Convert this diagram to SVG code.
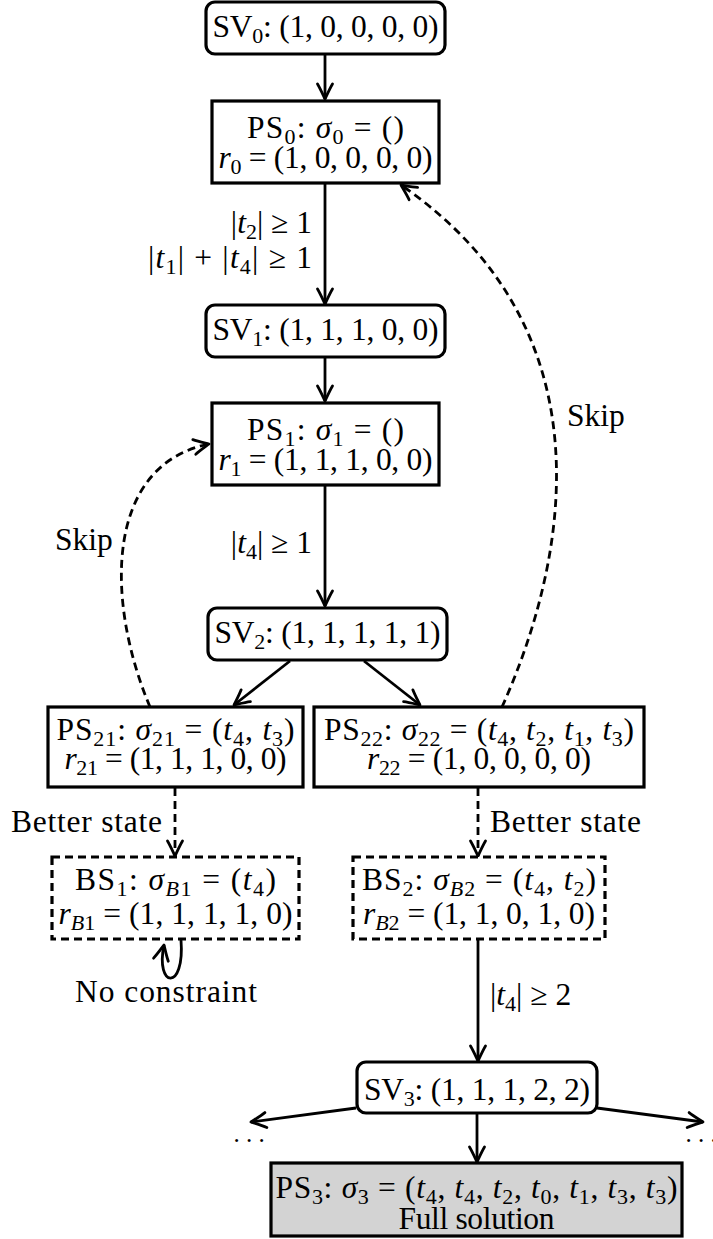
<svg xmlns="http://www.w3.org/2000/svg" width="713" height="1239" viewBox="0 0 713 1239">
<style>
.t{font-family:"Liberation Serif","Times New Roman",serif;font-size:31.5px;fill:#000}
.i{font-style:italic}
.s{font-size:22px}
.dots{font-family:"Liberation Serif","Times New Roman",serif;font-size:25px;fill:#000}
.box{fill:#fff;stroke:#000;stroke-width:3.2}
.dbox{fill:#fff;stroke:#000;stroke-width:3.2;stroke-dasharray:8 5}
.gbox{fill:#d3d3d3;stroke:#000;stroke-width:3.2}
.e{fill:none;stroke:#000;stroke-width:2.8;marker-end:url(#ah)}
.d{fill:none;stroke:#000;stroke-width:2.8;stroke-dasharray:8 5;marker-end:url(#ah)}
</style>
<defs>
<marker id="ah" markerUnits="userSpaceOnUse" markerWidth="30" markerHeight="30" refX="0" refY="0" viewBox="-20 -15 30 30" orient="auto" overflow="visible">
<path d="M-15,-7.5 C-10,-4.5 -3,-1.5 0,0 C-3,1.5 -10,4.5 -15,7.5" fill="none" stroke="#000" stroke-width="2.8" stroke-linecap="round" stroke-linejoin="round"/>
</marker>
</defs>

<g id="connectors">
<line class="e" x1="325" y1="54" x2="325" y2="99"/>
<line class="e" x1="325" y1="184" x2="325" y2="304"/>
<line class="e" x1="325" y1="357" x2="325" y2="401"/>
<line class="e" x1="325" y1="486" x2="325" y2="606"/>
<line class="e" x1="290" y1="661" x2="234" y2="705"/>
<line class="e" x1="364" y1="661" x2="420" y2="705"/>
<line class="d" x1="175" y1="788" x2="175" y2="856"/>
<line class="d" x1="478" y1="788" x2="478" y2="856"/>
<line class="e" x1="478" y1="940" x2="478" y2="1061"/>
<line class="e" x1="477" y1="1113" x2="477" y2="1162"/>
<line class="e" x1="356" y1="1108" x2="251" y2="1122"/>
<line class="e" x1="597" y1="1108" x2="703" y2="1122"/>
<path class="d" d="M150,707 C105,600 105,465 209,444"/>
<path class="d" d="M502,707 C568,560 612,330 401,185"/>
<path class="e" d="M181,940 C185,992 155,988 164,945"/>
<text class="t" x="312" y="233" text-anchor="end">|<tspan class="i">t</tspan><tspan class="s" dy="6">2</tspan><tspan dy="-6">| ≥ 1</tspan></text>
<text class="t" x="312" y="268" text-anchor="end" textLength="164">|<tspan class="i">t</tspan><tspan class="s" dy="6">1</tspan><tspan dy="-6">| + |</tspan><tspan class="i">t</tspan><tspan class="s" dy="6">4</tspan><tspan dy="-6">| ≥ 1</tspan></text>
<text class="t" x="312" y="553" text-anchor="end">|<tspan class="i">t</tspan><tspan class="s" dy="6">4</tspan><tspan dy="-6">| ≥ 1</tspan></text>
<text class="t" x="490" y="1005">|<tspan class="i">t</tspan><tspan class="s" dy="6">4</tspan><tspan dy="-6">| ≥ 2</tspan></text>
<text class="t" x="55" y="550">Skip</text>
<text class="t" x="567" y="426">Skip</text>
<text class="t" x="162" y="832" text-anchor="end" textLength="151">Better state</text>
<text class="t" x="490" y="832" textLength="151">Better state</text>
<text class="t" x="166" y="1002" text-anchor="middle" textLength="182">No constraint</text>
<text class="dots" x="249" y="1142" text-anchor="middle">. . .</text>
<text class="dots" x="701" y="1142" text-anchor="middle">. . .</text>
</g>

<g id="SV0">
<rect class="box" x="206" y="2" width="239" height="52" rx="9"/>
<text class="t" x="325.5" y="37" text-anchor="middle" textLength="226">SV<tspan class="s" dy="6">0</tspan><tspan dy="-6">: (1, 0, 0, 0, 0)</tspan></text>
</g>
<g id="PS0">
<rect class="box" x="212" y="101" width="227" height="82"/>
<text class="t" x="325.5" y="138" text-anchor="middle" textLength="157">PS<tspan class="s" dy="6">0</tspan><tspan dy="-6">: </tspan><tspan class="i">σ</tspan><tspan class="s" dy="6">0</tspan><tspan dy="-6"> = ()</tspan></text>
<text class="t" x="325.5" y="168" text-anchor="middle" textLength="214"><tspan class="i">r</tspan><tspan class="s" dy="6">0</tspan><tspan dy="-6"> = (1, 0, 0, 0, 0)</tspan></text>
</g>
<g id="SV1">
<rect class="box" x="206" y="305" width="239" height="52" rx="9"/>
<text class="t" x="325.5" y="340" text-anchor="middle" textLength="226">SV<tspan class="s" dy="6">1</tspan><tspan dy="-6">: (1, 1, 1, 0, 0)</tspan></text>
</g>
<g id="PS1">
<rect class="box" x="212" y="403" width="227" height="82"/>
<text class="t" x="325.5" y="440" text-anchor="middle" textLength="157">PS<tspan class="s" dy="6">1</tspan><tspan dy="-6">: </tspan><tspan class="i">σ</tspan><tspan class="s" dy="6">1</tspan><tspan dy="-6"> = ()</tspan></text>
<text class="t" x="325.5" y="470" text-anchor="middle" textLength="214"><tspan class="i">r</tspan><tspan class="s" dy="6">1</tspan><tspan dy="-6"> = (1, 1, 1, 0, 0)</tspan></text>
</g>
<g id="SV2">
<rect class="box" x="208" y="608" width="239" height="52" rx="9"/>
<text class="t" x="327.5" y="643" text-anchor="middle" textLength="226">SV<tspan class="s" dy="6">2</tspan><tspan dy="-6">: (1, 1, 1, 1, 1)</tspan></text>
</g>
<g id="PS21">
<rect class="box" x="48" y="707" width="255" height="80"/>
<text class="t" x="175.5" y="740" text-anchor="middle" textLength="238">PS<tspan class="s" dy="6">21</tspan><tspan dy="-6">: </tspan><tspan class="i">σ</tspan><tspan class="s" dy="6">21</tspan><tspan dy="-6"> = (</tspan><tspan class="i">t</tspan><tspan class="s" dy="6">4</tspan><tspan dy="-6">, </tspan><tspan class="i">t</tspan><tspan class="s" dy="6">3</tspan><tspan dy="-6">)</tspan></text>
<text class="t" x="175.5" y="769" text-anchor="middle" textLength="222"><tspan class="i">r</tspan><tspan class="s" dy="6">21</tspan><tspan dy="-6"> = (1, 1, 1, 0, 0)</tspan></text>
</g>
<g id="PS22">
<rect class="box" x="314" y="707" width="330" height="80"/>
<text class="t" x="479" y="740" text-anchor="middle" textLength="310">PS<tspan class="s" dy="6">22</tspan><tspan dy="-6">: </tspan><tspan class="i">σ</tspan><tspan class="s" dy="6">22</tspan><tspan dy="-6"> = (</tspan><tspan class="i">t</tspan><tspan class="s" dy="6">4</tspan><tspan dy="-6">, </tspan><tspan class="i">t</tspan><tspan class="s" dy="6">2</tspan><tspan dy="-6">, </tspan><tspan class="i">t</tspan><tspan class="s" dy="6">1</tspan><tspan dy="-6">, </tspan><tspan class="i">t</tspan><tspan class="s" dy="6">3</tspan><tspan dy="-6">)</tspan></text>
<text class="t" x="479" y="769" text-anchor="middle" textLength="224"><tspan class="i">r</tspan><tspan class="s" dy="6">22</tspan><tspan dy="-6"> = (1, 0, 0, 0, 0)</tspan></text>
</g>
<g id="BS1">
<rect class="dbox" x="52" y="857" width="247" height="82"/>
<text class="t" x="175.5" y="890" text-anchor="middle" textLength="201">BS<tspan class="s" dy="6">1</tspan><tspan dy="-6">: </tspan><tspan class="i">σ</tspan><tspan class="s i" dy="6">B</tspan><tspan class="s">1</tspan><tspan dy="-6"> = (</tspan><tspan class="i">t</tspan><tspan class="s" dy="6">4</tspan><tspan dy="-6">)</tspan></text>
<text class="t" x="175.5" y="924" text-anchor="middle" textLength="234"><tspan class="i">r</tspan><tspan class="s i" dy="6">B</tspan><tspan class="s">1</tspan><tspan dy="-6"> = (1, 1, 1, 1, 0)</tspan></text>
</g>
<g id="BS2">
<rect class="dbox" x="353" y="857" width="252" height="82"/>
<text class="t" x="479" y="890" text-anchor="middle" textLength="234">BS<tspan class="s" dy="6">2</tspan><tspan dy="-6">: </tspan><tspan class="i">σ</tspan><tspan class="s i" dy="6">B</tspan><tspan class="s">2</tspan><tspan dy="-6"> = (</tspan><tspan class="i">t</tspan><tspan class="s" dy="6">4</tspan><tspan dy="-6">, </tspan><tspan class="i">t</tspan><tspan class="s" dy="6">2</tspan><tspan dy="-6">)</tspan></text>
<text class="t" x="479" y="924" text-anchor="middle" textLength="232"><tspan class="i">r</tspan><tspan class="s i" dy="6">B</tspan><tspan class="s">2</tspan><tspan dy="-6"> = (1, 1, 0, 1, 0)</tspan></text>
</g>
<g id="SV3">
<rect class="box" x="357" y="1062" width="240" height="51" rx="9"/>
<text class="t" x="477" y="1100" text-anchor="middle" textLength="226">SV<tspan class="s" dy="6">3</tspan><tspan dy="-6">: (1, 1, 1, 2, 2)</tspan></text>
</g>
<g id="PS3">
<rect class="gbox" x="271" y="1163" width="411" height="73"/>
<text class="t" x="476.5" y="1198" text-anchor="middle" textLength="402">PS<tspan class="s" dy="6">3</tspan><tspan dy="-6">: </tspan><tspan class="i">σ</tspan><tspan class="s" dy="6">3</tspan><tspan dy="-6"> = (</tspan><tspan class="i">t</tspan><tspan class="s" dy="6">4</tspan><tspan dy="-6">, </tspan><tspan class="i">t</tspan><tspan class="s" dy="6">4</tspan><tspan dy="-6">, </tspan><tspan class="i">t</tspan><tspan class="s" dy="6">2</tspan><tspan dy="-6">, </tspan><tspan class="i">t</tspan><tspan class="s" dy="6">0</tspan><tspan dy="-6">, </tspan><tspan class="i">t</tspan><tspan class="s" dy="6">1</tspan><tspan dy="-6">, </tspan><tspan class="i">t</tspan><tspan class="s" dy="6">3</tspan><tspan dy="-6">, </tspan><tspan class="i">t</tspan><tspan class="s" dy="6">3</tspan><tspan dy="-6">)</tspan></text>
<text class="t" x="476.5" y="1229" text-anchor="middle" textLength="156">Full solution</text>
</g>
</svg>
